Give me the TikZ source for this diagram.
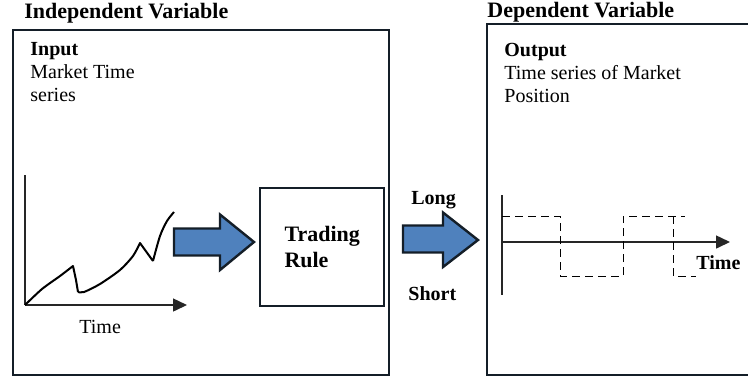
\documentclass[tikz,border=0pt]{standalone}
\usepackage{fontspec}
\setmainfont{Liberation Serif}
\usetikzlibrary{arrows.meta, positioning}
\definecolor{arrowblue}{HTML}{4F81BD}
\definecolor{edgenavy}{HTML}{141E28}

\begin{document}
\begin{tikzpicture}[
      x=0.5pt, y=-0.5pt,
      panel/.style = {draw=edgenavy, line width=1.2pt, anchor=north west,
        inner sep=0
      },
      rulebox/.style = {draw=edgenavy, line width=1.2pt, anchor=north west,
        minimum width=62pt, minimum height=59pt, align=left,
        font=\fontsize{11}{13}\selectfont\bfseries
      },
      heading/.style = {anchor=base west, inner sep=0,
        font=\fontsize{11}{13}\selectfont\bfseries},
      bodytext/.style = {anchor=base west, inner sep=0, align=left,
        font=\fontsize{10}{11.5}\selectfont},
      boldtext/.style = {bodytext, font=\fontsize{10}{11.5}\selectfont\bfseries},
      axis/.style = {draw=black!85, line width=0.75pt},
      tip/.style = {-{Triangle[length=7pt, width=6.5pt]}},
      blockarrow/.style = {fill=arrowblue, draw=edgenavy, line width=1.2pt, line join=miter},
      signal/.style = {draw=black, line width=0.5pt, dash pattern=on 4pt off 2.5pt}
    ]
    \useasboundingbox (0,0) rectangle (748,377);

    % the two panels
    \node[panel, minimum width=188pt, minimum height=172.5pt] (inpanel) at (12,29) {};
    \node[panel, minimum width=137pt, minimum height=175.5pt] (outpanel) at (486,23) {};
    \node[heading] (intitle) at (24,18) {Independent Variable};
    \node[heading] (outtitle) at (487,17) {Dependent Variable};

    % base of a multi-line node is its last line
    \node[bodytext] (input) at (30,101) {\textbf{Input}\\Market Time\\series};
    \node[bodytext] (output) at (504,102) {\textbf{Output}\\Time series of Market\\Position};

    % market time series
    \coordinate (o1) at (25,305);
    \draw[axis] (25,175) -- (o1);
    \draw[axis, tip] (o1) -- (187,305);
    \draw[line width=1pt, line join=round] plot[smooth, tension=0.45] coordinates {
        (25,305) (42,289) (60,276) (73,266)}
      -- (76,280) -- (78,292)
      plot[smooth, tension=0.45] coordinates {
        (78,292) (84,292) (100,284) (120,270) (133,256) (140,243)}
      -- (153,261)
      plot[smooth, tension=0.5] coordinates {
        (153,261) (160,236) (167,221) (174,212)};
    \node[bodytext] (xlabel1) at (79,333) {Time};

    % trading rule
    \node[rulebox] (rule) at (259,187) {Trading\\Rule};
    \coordinate (a1) at (174,242);
    \coordinate (a2) at (403,239);
    \draw[blockarrow] (a1) ++(0,-13.5) -- ++(46,0) -- ++(0,-14) -- (254,242)
      -- (220,270) -- (220,255.5) -- ++(-46,0) -- cycle;
    \draw[blockarrow] (a2) ++(0,-13.5) -- ++(40,0) -- ++(0,-13) -- (478,240)
      -- (443,267) -- (443,252.5) -- ++(-40,0) -- cycle;
    \node[boldtext] (long) at (411,204) {Long};
    \node[boldtext] (short) at (408,300) {Short};

    % market position
    \coordinate (o2) at (502,242);
    \draw[axis] (502,195) -- (502,295);
    \draw[axis, tip] (o2) -- (730,242);
    \draw[signal] (502,216) -- (560,216) -- (560,276) -- (623,276) -- (623,216) -- (685,216);
    \draw[signal] (673,216) -- (673,276) -- (696,276);
    \node[boldtext] (xlabel2) at (696,269) {Time};
\end{tikzpicture}
\end{document}
